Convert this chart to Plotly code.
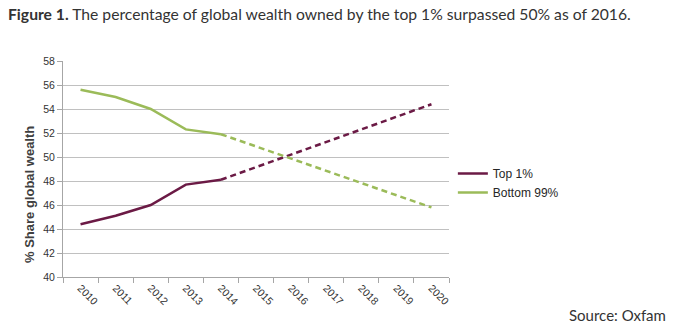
import plotly.graph_objects as go

years = [str(y) for y in range(2010, 2021)]
hist_years = ["2010", "2011", "2012", "2013", "2014"]
top1_hist = [44.4, 45.1, 46.0, 47.7, 48.1]
bottom99_hist = [55.6, 55.0, 54.0, 52.3, 51.9]
proj_years = ["2014", "2020"]
top1_proj = [48.1, 54.4]
bottom99_proj = [51.9, 45.8]
y_ticks = list(range(40, 59, 2))

c_top = "#6b1a45"
c_bot = "#9bbb59"

fig = go.Figure()
fig.add_trace(go.Scatter(x=hist_years, y=top1_hist, mode="lines", name="Top 1%",
                         line=dict(color=c_top, width=2.5)))
fig.add_trace(go.Scatter(x=hist_years, y=bottom99_hist, mode="lines", name="Bottom 99%",
                         line=dict(color=c_bot, width=2.5)))
fig.add_trace(go.Scatter(x=proj_years, y=top1_proj, mode="lines", showlegend=False,
                         line=dict(color=c_top, width=2.5, dash="6px,4px")))
fig.add_trace(go.Scatter(x=proj_years, y=bottom99_proj, mode="lines", showlegend=False,
                         line=dict(color=c_bot, width=2.5, dash="6px,4px")))

axis_font = dict(family="Arial, Liberation Sans, sans-serif", size=10.5, color="#333333")

fig.update_layout(
    width=676, height=328,
    margin=dict(l=63, r=227, t=61, b=51),
    paper_bgcolor="white", plot_bgcolor="white",
    title=dict(text="<b>Figure 1.</b> The percentage of global wealth owned by the top 1% surpassed 50% as of 2016.",
               x=8/676, xanchor="left", xref="container",
               y=1-15/328, yanchor="middle", yref="container",
               font=dict(family="Lato, sans-serif", size=15.7, color="#333333")),
    xaxis=dict(type="category", categoryorder="array", categoryarray=years,
               range=[-0.5, 10.5], tickangle=45, tickfont=axis_font,
               showline=True, linecolor="#a6a6a6", linewidth=1,
               ticks="outside", ticklen=5, tickcolor="#a6a6a6", tickson="boundaries",
               showgrid=False, zeroline=False),
    yaxis=dict(range=[40, 58], tickvals=y_ticks, tickfont=axis_font,
               showline=True, linecolor="#a6a6a6", linewidth=1,
               ticks="outside", ticklen=5, tickcolor="#a6a6a6",
               showgrid=True, gridcolor="#c0c0c0", gridwidth=1, zeroline=False),
    legend=dict(x=1.01, xanchor="left", y=0.435, yanchor="middle",
                font=dict(family="Arial, Liberation Sans, sans-serif", size=12, color="#262626"),
                itemwidth=30, bgcolor="rgba(0,0,0,0)", tracegroupgap=0),
    showlegend=True,
)

fig.add_annotation(text="<b>% Share global wealth</b>", textangle=-90,
                   x=(29-63)/386, y=(277-195)/216, xref="paper", yref="paper",
                   xanchor="center", yanchor="middle", showarrow=False,
                   font=dict(family="Arial, Liberation Sans, sans-serif", size=13, color="#404040"))
fig.add_annotation(text="Source: Oxfam",
                   x=(668-63)/386, y=(277-315)/216, xref="paper", yref="paper",
                   xanchor="right", yanchor="middle", showarrow=False,
                   font=dict(family="Lato, sans-serif", size=15, color="#333333"))

fig.write_html("out.html")
